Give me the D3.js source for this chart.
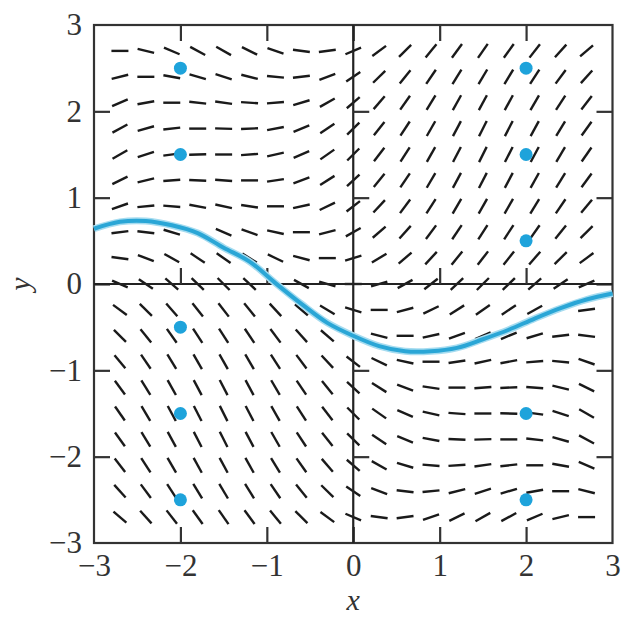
<!DOCTYPE html>
<html>
<head>
<meta charset="utf-8">
<script src="https://cdn.jsdelivr.net/npm/d3@7"></script>
<style>
  html, body { margin: 0; padding: 0; background: #fff; }
  svg { display: block; }
  text { font-family: "Liberation Serif", "DejaVu Serif", serif; fill: #333; }
</style>
</head>
<body>
<svg id="chart" width="622" height="618"></svg>
<script>
// ---- data ----
const gridX = [-2.7,-2.4,-2.1,-1.8,-1.5,-1.2,-0.9,-0.6,-0.3,0,0.3,0.6,0.9,1.2,1.5,1.8,2.1,2.4,2.7];
const gridY = [2.7,2.4,2.1,1.8,1.5,1.2,0.9,0.6,0.3,0,-0.3,-0.6,-0.9,-1.2,-1.5,-1.8,-2.1,-2.4,-2.7];
// slope of each field segment, one row per gridY value, one column per gridX value
const slopes = [
  [0.00,-0.25,-0.43,-0.54,-0.57,-0.50,-0.35,-0.13,0.13,0.43,0.73,0.99,1.21,1.36,1.43,1.40,1.29,1.11,0.86],
  [0.25,0.00,-0.18,-0.29,-0.32,-0.25,-0.10,0.12,0.38,0.68,0.98,1.24,1.46,1.61,1.68,1.65,1.54,1.36,1.11],
  [0.43,0.18,0.00,-0.11,-0.14,-0.07,0.08,0.30,0.56,0.86,1.16,1.42,1.64,1.79,1.86,1.83,1.72,1.54,1.29],
  [0.54,0.29,0.11,0.00,-0.03,0.04,0.19,0.41,0.67,0.97,1.27,1.53,1.75,1.90,1.97,1.94,1.83,1.65,1.40],
  [0.57,0.32,0.14,0.03,0.00,0.07,0.22,0.44,0.70,1.00,1.30,1.56,1.78,1.93,2.00,1.97,1.86,1.68,1.43],
  [0.50,0.25,0.07,-0.04,-0.07,0.00,0.15,0.37,0.63,0.93,1.23,1.49,1.71,1.86,1.93,1.90,1.79,1.61,1.36],
  [0.35,0.10,-0.08,-0.19,-0.22,-0.15,0.00,0.22,0.48,0.78,1.08,1.34,1.56,1.71,1.78,1.75,1.64,1.46,1.21],
  [0.13,-0.12,-0.30,-0.41,-0.44,-0.37,-0.22,0.00,0.26,0.56,0.86,1.12,1.34,1.49,1.56,1.53,1.42,1.24,0.99],
  [-0.13,-0.38,-0.56,-0.67,-0.70,-0.63,-0.48,-0.26,0.00,0.30,0.60,0.86,1.08,1.23,1.30,1.27,1.16,0.98,0.73],
  [-0.43,-0.68,-0.86,-0.97,-1.00,-0.93,-0.78,-0.56,-0.30,0.00,0.30,0.56,0.78,0.93,1.00,0.97,0.86,0.68,0.43],
  [-0.73,-0.98,-1.16,-1.27,-1.30,-1.23,-1.08,-0.86,-0.60,-0.30,0.00,0.26,0.48,0.63,0.70,0.67,0.56,0.38,0.13],
  [-0.99,-1.24,-1.42,-1.53,-1.56,-1.49,-1.34,-1.12,-0.86,-0.56,-0.26,0.00,0.22,0.37,0.44,0.41,0.30,0.12,-0.13],
  [-1.21,-1.46,-1.64,-1.75,-1.78,-1.71,-1.56,-1.34,-1.08,-0.78,-0.48,-0.22,0.00,0.15,0.22,0.19,0.08,-0.10,-0.35],
  [-1.36,-1.61,-1.79,-1.90,-1.93,-1.86,-1.71,-1.49,-1.23,-0.93,-0.63,-0.37,-0.15,0.00,0.07,0.04,-0.07,-0.25,-0.50],
  [-1.43,-1.68,-1.86,-1.97,-2.00,-1.93,-1.78,-1.56,-1.30,-1.00,-0.70,-0.44,-0.22,-0.07,0.00,-0.03,-0.14,-0.32,-0.57],
  [-1.40,-1.65,-1.83,-1.94,-1.97,-1.90,-1.75,-1.53,-1.27,-0.97,-0.67,-0.41,-0.19,-0.04,0.03,0.00,-0.11,-0.29,-0.54],
  [-1.29,-1.54,-1.72,-1.83,-1.86,-1.79,-1.64,-1.42,-1.16,-0.86,-0.56,-0.30,-0.08,0.07,0.14,0.11,0.00,-0.18,-0.43],
  [-1.11,-1.36,-1.54,-1.65,-1.68,-1.61,-1.46,-1.24,-0.98,-0.68,-0.38,-0.12,0.10,0.25,0.32,0.29,0.18,0.00,-0.25],
  [-0.86,-1.11,-1.29,-1.40,-1.43,-1.36,-1.21,-0.99,-0.73,-0.43,-0.13,0.13,0.35,0.50,0.57,0.54,0.43,0.25,0.00]
];
// solution curve
const curveX = [-3.0,-2.7,-2.4,-2.1,-1.8,-1.5,-1.2,-0.9,-0.6,-0.3,0.0,0.3,0.6,0.9,1.2,1.5,1.8,2.1,2.4,2.7,3.0];
const curveY = [0.64,0.72,0.73,0.68,0.59,0.42,0.26,0.01,-0.23,-0.45,-0.60,-0.72,-0.78,-0.78,-0.74,-0.64,-0.53,-0.40,-0.28,-0.18,-0.11];
// marked points
const dotX = [-2,-2,-2,-2,-2,2,2,2,2,2];
const dotY = [2.5,1.5,-0.5,-1.5,-2.5,2.5,1.5,0.5,-1.5,-2.5];
// ticks
const tickLabels = [-3,-2,-1,0,1,2,3];
const innerTicks = [-2,-1,0,1,2];
const axisTicks = [-2,-1,1,2];

// ---- drawing ----
const svg = d3.select("#chart");
const L = 94, R = 612.5, T = 25, B = 543;
const x = d3.scaleLinear().domain([-3, 3]).range([L, R]);
const y = d3.scaleLinear().domain([-3, 3]).range([B, T]);
const frameColor = "#333";
const fontFam = "'Liberation Serif', 'Times New Roman', serif";

// slope field segments
const half = 8.5;
const segs = [];
gridY.forEach((gy, j) => gridX.forEach((gx, i) => segs.push({gx, gy, m: slopes[j][i]})));
svg.append("g").selectAll("line").data(segs).join("line")
  .each(function(d) {
    const cx = x(d.gx), cy = y(d.gy);
    const ux = x(1) - x(0), uy = y(0) - y(1);
    const dx = ux, dy = -d.m * uy;
    const len = Math.hypot(dx, dy);
    d3.select(this)
      .attr("x1", cx - dx / len * half).attr("y1", cy - dy / len * half)
      .attr("x2", cx + dx / len * half).attr("y2", cy + dy / len * half);
  })
  .attr("stroke", "#1a1a1a").attr("stroke-width", 2.4).attr("stroke-linecap", "butt");

// frame
svg.append("rect").attr("x", L).attr("y", T).attr("width", R - L).attr("height", B - T)
  .attr("fill", "none").attr("stroke", frameColor).attr("stroke-width", 2.2);

// inward frame ticks
const tk = 16;
function styleAxis(g) {
  g.select(".domain").remove();
  g.selectAll(".tick line").attr("stroke", frameColor).attr("stroke-width", 2.2);
  g.selectAll(".tick text").remove();
}
svg.append("g").attr("transform", `translate(0,${B})`)
  .call(d3.axisBottom(x).tickValues(innerTicks).tickSize(-tk)).call(styleAxis);
svg.append("g").attr("transform", `translate(0,${T})`)
  .call(d3.axisTop(x).tickValues(innerTicks).tickSize(-tk)).call(styleAxis);
svg.append("g").attr("transform", `translate(${L},0)`)
  .call(d3.axisLeft(y).tickValues(innerTicks).tickSize(-tk)).call(styleAxis);
svg.append("g").attr("transform", `translate(${R},0)`)
  .call(d3.axisRight(y).tickValues(innerTicks).tickSize(-tk)).call(styleAxis);

// central axes
svg.append("line").attr("x1", L).attr("x2", R).attr("y1", y(0)).attr("y2", y(0))
  .attr("stroke", "#222").attr("stroke-width", 2.2);
svg.append("line").attr("x1", x(0)).attr("x2", x(0)).attr("y1", T).attr("y2", B)
  .attr("stroke", "#222").attr("stroke-width", 2.2);
svg.append("g").attr("transform", `translate(0,${y(0)})`)
  .call(d3.axisTop(x).tickValues(axisTicks).tickSize(tk)).call(styleAxis);
svg.append("g").attr("transform", `translate(${x(0)},0)`)
  .call(d3.axisRight(y).tickValues(axisTicks).tickSize(tk)).call(styleAxis);

// solution curve
const line = d3.line().x(d => x(d[0])).y(d => y(d[1])).curve(d3.curveCatmullRom);
const pts = curveX.map((v, i) => [v, curveY[i]]);
svg.append("path").attr("d", line(pts)).attr("fill", "none")
  .attr("stroke", "#a6dcf0").attr("stroke-width", 7);
svg.append("path").attr("d", line(pts)).attr("fill", "none")
  .attr("stroke", "#2aa6d6").attr("stroke-width", 4);

// dots
svg.append("g").selectAll("circle").data(dotX.map((v, i) => [v, dotY[i]])).join("circle")
  .attr("cx", d => x(d[0])).attr("cy", d => y(d[1])).attr("r", 6.5).attr("fill", "#1ea3db");

// tick labels
const fmt = d3.format("d");
const xl = svg.append("g").attr("transform", `translate(0,${B + 7})`)
  .call(d3.axisBottom(x).tickValues(tickLabels).tickSize(0).tickPadding(4).tickFormat(fmt));
xl.select(".domain").remove();
xl.selectAll("text").style("font-family", fontFam).style("font-size", "31px").attr("fill", "#333");
const yl = svg.append("g").attr("transform", `translate(${L - 12},0)`)
  .call(d3.axisLeft(y).tickValues(tickLabels).tickSize(0).tickPadding(0).tickFormat(fmt));
yl.select(".domain").remove();
yl.selectAll("text").style("font-family", fontFam).style("font-size", "31px").attr("fill", "#333");

// axis titles
svg.append("text").attr("x", x(0)).attr("y", 610).attr("text-anchor", "middle")
  .style("font-family", fontFam).style("font-size", "30px").style("font-style", "italic").attr("fill", "#333").text("x");
svg.append("text").attr("transform", `translate(30,${y(0)}) rotate(-90)`).attr("text-anchor", "middle")
  .style("font-family", fontFam).style("font-size", "30px").style("font-style", "italic").attr("fill", "#333").text("y");
</script>
</body>
</html>
